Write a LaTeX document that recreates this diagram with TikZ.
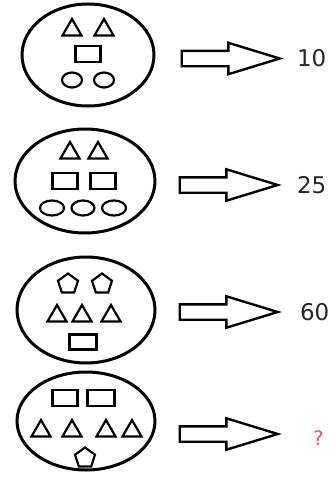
\documentclass[tikz,border=0pt]{standalone}
\usepackage{fontspec}
\setmainfont{DejaVu Sans}
\usepackage{tikz}
\usetikzlibrary{shapes.geometric, shapes.arrows, positioning}
\definecolor{qpink}{RGB}{224,84,136}

\begin{document}
\begin{tikzpicture}[
    x=1pt, y=-1pt,
    oval/.style={draw, ellipse, line width=3pt, inner sep=0pt},
    tri/.style={draw, regular polygon, regular polygon sides=3, minimum size=22pt, inner sep=0pt, line width=2.2pt},
    penta/.style={draw, regular polygon, regular polygon sides=5, minimum size=21pt, inner sep=0pt, line width=2.2pt},
    box/.style={draw, minimum width=25pt, minimum height=16pt, inner sep=0pt, line width=2.2pt},
    ring/.style={draw, ellipse, minimum width=20pt, minimum height=15pt, inner sep=0pt, line width=2.2pt},
    blockarrow/.style={draw, single arrow, line width=2.4pt, minimum height=98pt, minimum width=29pt, inner sep=0pt, inner ysep=6.5pt, single arrow head extend=8pt, single arrow tip angle=34},
    value/.style={font=\fontsize{23}{26}\selectfont, inner sep=0pt, text=black!85}
]
\useasboundingbox (0,0) rectangle (334,482);

% Row 1
\node[oval, minimum width=132pt, minimum height=102pt] (ell1) at (88,55) {};
\node[tri] (tri1a) at (72,30) {};
\node[tri] (tri1b) at (104,30) {};
\node[box] (box1a) at (88,54) {};
\node[ring] (ring1a) at (72,80) {};
\node[ring] (ring1b) at (104,80) {};
\node[blockarrow, right=25pt of ell1, yshift=-3.5pt] (arr1) {};
\node[value, right=13pt of arr1] (val1) {10};

% Row 2
\node[oval, minimum width=140pt, minimum height=104pt] (ell2) at (85,181) {};
\node[tri] (tri2a) at (70,153) {};
\node[tri] (tri2b) at (98,153) {};
\node[box] (box2a) at (65,181) {};
\node[box] (box2b) at (103,181) {};
\node[ring, minimum width=24pt] (ring2a) at (52,208) {};
\node[ring, minimum width=23pt] (ring2b) at (83,208) {};
\node[ring, minimum width=24pt] (ring2c) at (114,208) {};
\node[blockarrow, right=22pt of ell2, yshift=-4pt] (arr2) {};
\node[value, right=15pt of arr2] (val2) {25};

% Row 3
\node[oval, minimum width=138pt, minimum height=106pt] (ell3) at (86,310) {};
\node[penta] (pen3a) at (68,284) {};
\node[penta] (pen3b) at (102,284) {};
\node[tri] (tri3a) at (57,316) {};
\node[tri] (tri3b) at (82,316) {};
\node[tri] (tri3c) at (111,316) {};
\node[box, minimum width=27pt, minimum height=15pt] (box3a) at (83,342) {};
\node[blockarrow, right=22pt of ell3, yshift=-2pt] (arr3) {};
\node[value, right=18pt of arr3] (val3) {60};

% Row 4
\node[oval, minimum width=138pt, minimum height=98pt] (ell4) at (86,421) {};
\node[box] (box4a) at (65,398) {};
\node[box, minimum width=27pt] (box4b) at (101,398) {};
\node[tri] (tri4a) at (41,431) {};
\node[tri] (tri4b) at (72,431) {};
\node[tri] (tri4c) at (106,431) {};
\node[tri] (tri4d) at (132,431) {};
\node[penta] (pen4a) at (85,458) {};
\node[blockarrow, right=22pt of ell4, yshift=-13pt] (arr4) {};
\node[value, text=qpink, font=\fontsize{20}{24}\selectfont, right=31pt of arr4, yshift=-4pt] (val4) {?};

\end{tikzpicture}
\end{document}
